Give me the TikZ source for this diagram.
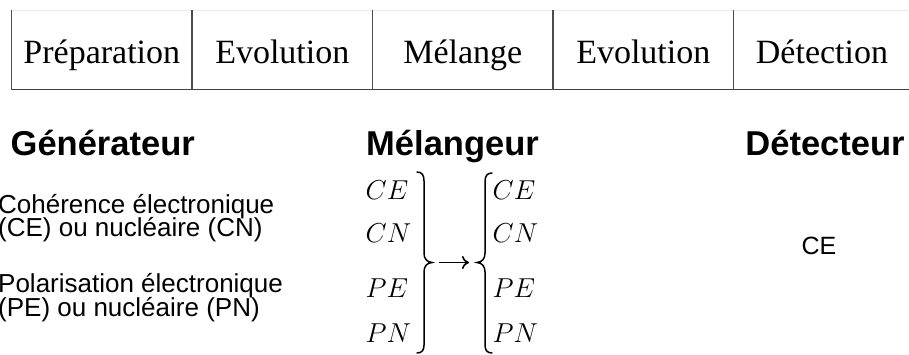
\documentclass[tikz,border=0pt]{standalone}
\usepackage{fontspec}
\setmainfont{Liberation Serif}
\newfontfamily\arial{Liberation Sans}
\usetikzlibrary{arrows.meta}
\begin{document}
\begin{tikzpicture}[x=1pt,y=-1pt,
  cell/.style={anchor=base,inner sep=0pt,font=\fontsize{34}{40}\selectfont},
  head/.style={anchor=base,inner sep=0pt,font=\arial\bfseries\fontsize{34.5}{40}\selectfont},
  body/.style={anchor=base west,inner sep=0pt,font=\arial\fontsize{26}{24}\selectfont},
  mth/.style={anchor=base west,inner sep=0pt,scale=1.1,font=\fontsize{24.88}{30}\selectfont},
  tabline/.style={draw=black!70,line width=1.1pt},
  bracestyle/.style={line width=1.5pt,line cap=round},
]
\useasboundingbox (0,0) rectangle (909,354);
\fill[white] (0,0) rectangle (909,354);
% table
\coordinate (t0) at (11.7,10);
\coordinate (b0) at (11.7,89.5);
\coordinate (t1) at (192,10);
\coordinate (b1) at (192,89.5);
\coordinate (t2) at (372.5,10);
\coordinate (b2) at (372.5,89.5);
\coordinate (t3) at (553,10);
\coordinate (b3) at (553,89.5);
\coordinate (t4) at (733.5,10);
\coordinate (b4) at (733.5,89.5);
\coordinate (tr) at (909,10);
\coordinate (br) at (909,89.5);
\draw[draw=black!8,line width=1pt] (t0) -- (tr);
\draw[draw=black!75,line width=1.5pt] (b0) -- (br);
\foreach \i in {0,...,4} \draw[tabline] (t\i) -- (b\i);
\node[cell] (c1) at (101.8,63.3) {Préparation};
\node[cell] (c2) at (282.3,63.3) {Evolution};
\node[cell] (c3) at (462.8,63.3) {Mélange};
\node[cell] (c4) at (643.3,63.3) {Evolution};
\node[cell] (c5) at (822,63.3) {Détection};
% headings
\node[head,anchor=base west] (gen) at (10.5,155) {Générateur};
\node[head] (mel) at (452.5,155) {Mélangeur};
\node[head] (det) at (825,155) {Détecteur};
% generator text
\node[body] (g1) at (-2,213) {Cohérence électronique};
\node[body] (g2) at (-2,236.5) {(CE) ou nucléaire (CN)};
\node[body] (g3) at (-2,292) {Polarisation électronique};
\node[body] (g4) at (-2,316) {(PE) ou nucléaire (PN)};
% detector
\node[anchor=base,inner sep=0pt,font=\arial\fontsize{25}{30}\selectfont] (dce) at (819,254) {CE};
% mixer
\node[mth] (l1) at (365.5,199) {$CE$};
\node[mth] (l2) at (365.5,242) {$CN$};
\node[mth] (l3) at (365.5,297) {$PE$};
\node[mth] (l4) at (365.5,342) {$PN$};
\node[mth] (r1) at (492.5,199) {$CE$};
\node[mth] (r2) at (492.5,242) {$CN$};
\node[mth] (r3) at (492.5,297) {$PE$};
\node[mth] (r4) at (492.5,342) {$PN$};
% braces
\draw[bracestyle] (417,172) .. controls (422,172) and (424,175) .. (424,181)
  -- (424,253) .. controls (424,259) and (427,262) .. (432,262.5)
  .. controls (427,263) and (424,266) .. (424,272)
  -- (424,345) .. controls (424,350) and (422,353) .. (417,353);
\draw[bracestyle] (492,173) .. controls (487,173) and (485,176) .. (485,182)
  -- (485,253) .. controls (485,259) and (482,262) .. (477,262.5)
  .. controls (482,263) and (485,266) .. (485,272)
  -- (485,345) .. controls (485,350) and (487,353) .. (492,353);
\coordinate (as) at (439,262.5);
\coordinate (ae) at (469,262.5);
\draw[line width=1.6pt,-{Computer Modern Rightarrow[length=7pt,width=13pt,line width=1.6pt]}] (as) -- (ae);
\end{tikzpicture}
\end{document}
